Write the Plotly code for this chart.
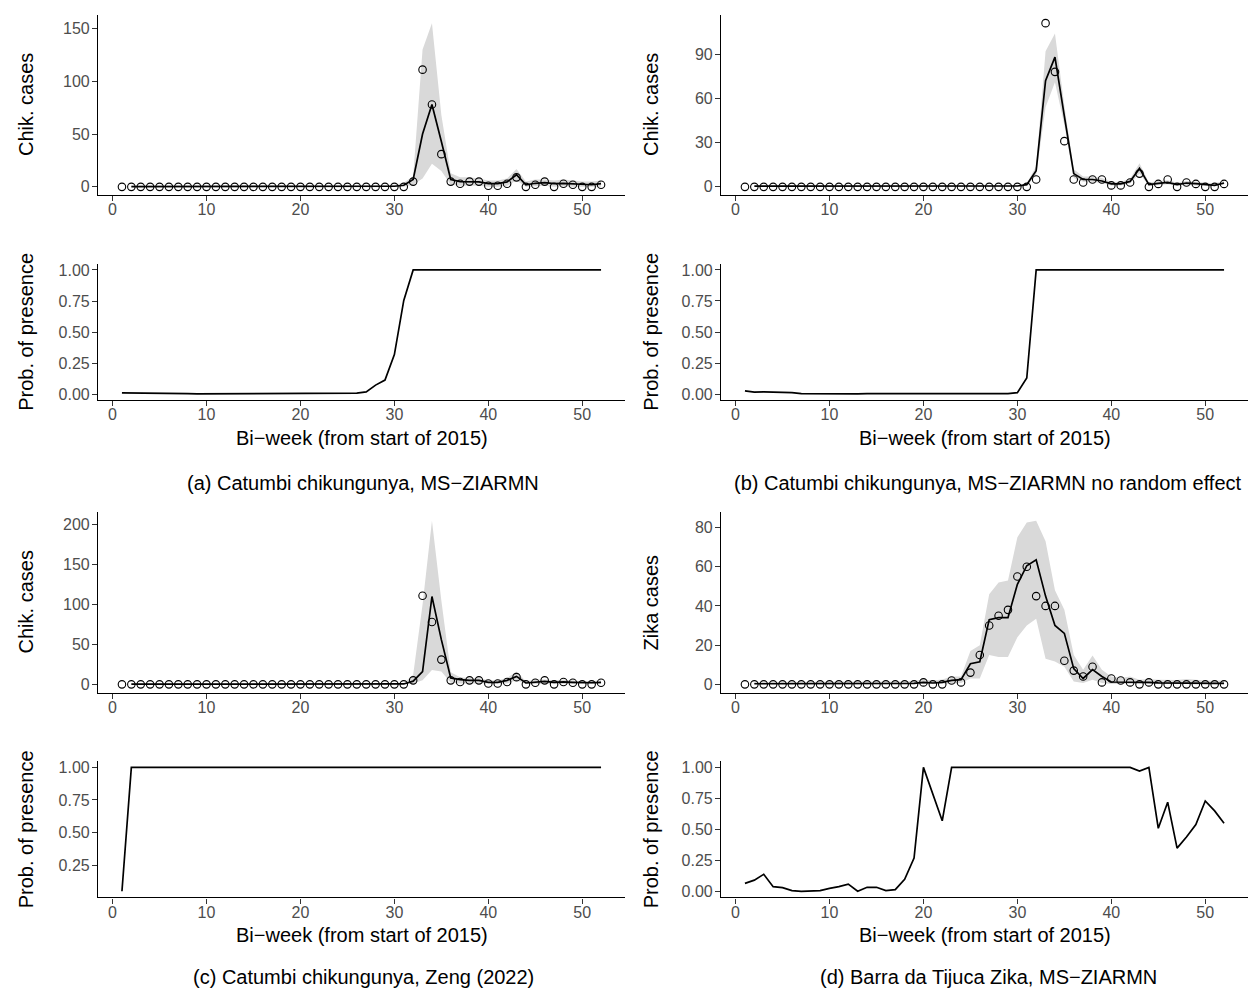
import plotly.graph_objects as go

# ---------------- data ----------------
weeks = list(range(1, 53))
fit_weeks = list(range(2, 53))

# observed chikungunya cases (Catumbi), panels a-c
obs_chik = [0, 0, 0, 0, 0, 0, 0, 0, 0, 0, 0, 0, 0, 0, 0, 0, 0, 0, 0, 0,
            0, 0, 0, 0, 0, 0, 0, 0, 0, 0, 0, 5, 111, 78, 31, 5, 3, 5, 5, 1,
            1, 3, 9, 0, 2, 5, 0, 3, 2, 0, 0, 2]

# observed zika cases (Barra da Tijuca), panel d
obs_zika = [0, 0, 0, 0, 0, 0, 0, 0, 0, 0, 0, 0, 0, 0, 0, 0, 0, 0, 0, 1,
            0, 0, 2, 1, 6, 15, 30, 35, 38, 55, 60, 45, 40, 40, 12, 7, 4, 9, 1, 3,
            2, 1, 0, 1, 0, 0, 0, 0, 0, 0, 0, 0]

# (a) MS-ZIARMN fitted mean and interval (weeks 2..52)
fit_a = [0.3, 0.3, 0.3, 0.3, 0.3, 0.3, 0.3, 0.3, 0.3, 0.3, 0.3, 0.3, 0.3, 0.3, 0.3,
         0.3, 0.3, 0.3, 0.3, 0.3, 0.3, 0.3, 0.3, 0.3, 0.3, 0.3, 0.4, 0.5, 0.6,
         1.5, 7, 50, 78, 43, 7, 5, 5, 4.7, 3, 3, 4.7, 11.5, 2, 3.4, 4, 3, 3.4, 3, 2, 2, 3]
up_a = [1.2, 1.2, 1.2, 1.2, 1.2, 1.2, 1.2, 1.2, 1.2, 1.2, 1.2, 1.2, 1.2, 1.2, 1.2,
        1.2, 1.2, 1.2, 1.2, 1.2, 1.2, 1.2, 1.2, 1.2, 1.2, 1.2, 1.4, 1.6, 2,
        4, 10, 130, 155, 68, 13, 9, 9, 8, 6, 6, 8, 17, 5, 7, 7, 6, 7, 6, 5, 5, 6]
lo_a = [0, 0, 0, 0, 0, 0, 0, 0, 0, 0, 0, 0, 0, 0, 0,
        0, 0, 0, 0, 0, 0, 0, 0, 0, 0, 0, 0, 0, 0,
        0, 2, 8, 22, 15, 2, 1, 1, 1, 0, 0, 1, 6, 0, 0.5, 1, 0, 0.5, 0, 0, 0, 0]
prob_a = [0.012, 0.012, 0.012, 0.011, 0.011, 0.010, 0.007, 0.006, 0.005, 0.005,
          0.005, 0.005, 0.005, 0.005, 0.005, 0.005, 0.005, 0.005, 0.005, 0.005,
          0.005, 0.005, 0.005, 0.005, 0.006, 0.010, 0.020, 0.075, 0.115, 0.32,
          0.755, 1.0, 1.0, 1.0, 1.0, 1.0, 1.0, 1.0, 1.0, 1.0,
          1.0, 1.0, 1.0, 1.0, 1.0, 1.0, 1.0, 1.0, 1.0, 1.0, 1.0, 1.0]

# (b) MS-ZIARMN no random effect
fit_b = [0.5, 0.5, 0.5, 0.5, 0.5, 0.5, 0.5, 0.5, 0.5, 0.5, 0.5, 0.5, 0.5, 0.5, 0.5,
         0.5, 0.5, 0.5, 0.5, 0.5, 0.5, 0.5, 0.5, 0.5, 0.5, 0.5, 0.5, 0.5, 0.6,
         1.5, 11, 72, 88, 48, 9, 5, 5, 4, 2, 2, 3.7, 12.5, 1.5, 2.4, 3, 1.5, 2.6, 2.2, 1.5, 1, 2.6]
up_b = [1, 1, 1, 1, 1, 1, 1, 1, 1, 1, 1, 1, 1, 1, 1,
        1, 1, 1, 1, 1, 1, 1, 1, 1, 1, 1, 1, 1, 1.1,
        2.5, 14, 92, 104, 55, 12, 7, 7, 6, 3.5, 3.5, 5.5, 16, 3, 4, 4.5, 3, 4, 3.5, 3, 2.5, 4]
lo_b = [0.1, 0.1, 0.1, 0.1, 0.1, 0.1, 0.1, 0.1, 0.1, 0.1, 0.1, 0.1, 0.1, 0.1, 0.1,
        0.1, 0.1, 0.1, 0.1, 0.1, 0.1, 0.1, 0.1, 0.1, 0.1, 0.1, 0.1, 0.1, 0.2,
        0.8, 8, 54, 71, 42, 6, 3.5, 3.5, 2.5, 1, 1, 2.2, 9, 0.6, 1.2, 1.8, 0.6, 1.4, 1, 0.6, 0.4, 1.4]
prob_b = [0.027, 0.016, 0.018, 0.018, 0.016, 0.012, 0.004, 0.003, 0.003, 0.003,
          0.003, 0.003, 0.003, 0.004, 0.003, 0.003, 0.003, 0.003, 0.003, 0.004,
          0.005, 0.005, 0.003, 0.003, 0.003, 0.003, 0.003, 0.004, 0.005, 0.012,
          0.13, 1.0, 1.0, 1.0, 1.0, 1.0, 1.0, 1.0, 1.0, 1.0,
          1.0, 1.0, 1.0, 1.0, 1.0, 1.0, 1.0, 1.0, 1.0, 1.0, 1.0, 1.0]

# (c) Zeng (2022)
fit_c = [0.3, 0.3, 0.3, 0.3, 0.3, 0.3, 0.3, 0.3, 0.3, 0.3, 0.3, 0.3, 0.3, 0.3, 0.3,
         0.3, 0.3, 0.3, 0.3, 0.3, 0.3, 0.3, 0.3, 0.3, 0.3, 0.3, 0.3, 0.3, 0.3, 0.5,
         4, 16, 110, 56, 8, 6, 5, 5, 2.5, 2.5, 5, 10, 1.7, 3, 3.7, 2.5, 3, 2.5, 2, 2, 2.5]
up_c = [1, 1, 1, 1, 1, 1, 1, 1, 1, 1, 1, 1, 1, 1, 1,
        1, 1, 1, 1, 1, 1, 1, 1, 1, 1, 1, 1, 1, 1, 1.5,
        12, 100, 205, 105, 15, 9, 8, 8, 5, 5, 8, 16, 4, 6, 6, 5, 6, 5, 4, 4, 5]
lo_c = [0, 0, 0, 0, 0, 0, 0, 0, 0, 0, 0, 0, 0, 0, 0,
        0, 0, 0, 0, 0, 0, 0, 0, 0, 0, 0, 0, 0, 0, 0,
        1, 5, 18, 16, 2, 1, 1, 1, 1, 1, 1, 5, 0.5, 0.5, 0.5, 0.5, 0.5, 0.5, 0.5, 0.5, 0.5]
prob_c = [0.05, 1.0, 1.0, 1.0, 1.0, 1.0, 1.0, 1.0, 1.0, 1.0,
          0.999, 0.999, 1.0, 1.0, 1.0, 1.0, 1.0, 1.0, 1.0, 1.0,
          1.0, 1.0, 1.0, 1.0, 1.0, 1.0, 1.0, 1.0, 1.0, 1.0,
          1.0, 1.0, 1.0, 1.0, 1.0, 1.0, 1.0, 1.0, 1.0, 1.0,
          1.0, 1.0, 1.0, 1.0, 1.0, 1.0, 1.0, 1.0, 1.0, 0.999, 0.999, 1.0]

# (d) Barra da Tijuca Zika, MS-ZIARMN
fit_d = [0.3, 0.3, 0.3, 0.3, 0.3, 0.3, 0.3, 0.3, 0.3, 0.3, 0.3, 0.3, 0.3, 0.3, 0.3,
         0.3, 0.4, 0.5,
         1, 0.7, 1, 2, 2.4, 10.5, 11.5, 33, 34, 34, 51, 60.5, 63.5, 45, 30, 26, 8, 3,
         7.5, 4, 1.2, 1.2, 1.1, 0.9, 1, 0.8, 0.7, 0.6, 0.7, 0.6, 0.5, 0.5, 0.5]
up_d = [1.2, 1.2, 1.2, 1.2, 1.2, 1.2, 1.2, 1.2, 1.2, 1.2, 1.2, 1.2, 1.2, 1.2, 1.2,
        1.2, 1.4, 1.8,
        2.5, 2, 2.5, 4, 4, 17, 20, 46, 52, 53, 75, 82.5, 83.5, 73, 48, 38, 15, 7.4,
        14.7, 7.4, 4, 3.2, 4, 2.4, 2.7, 2.4, 2.2, 2.2, 2.7, 2.2, 2, 2, 2]
lo_d = [0, 0, 0, 0, 0, 0, 0, 0, 0, 0, 0, 0, 0, 0, 0,
        0, 0, 0,
        0, 0, 0, 0.3, 0.7, 3, 3, 15, 14, 14, 24, 30, 33.5, 13, 11.6, 9, 1.5, 0.7,
        2.4, 0.7, 0.2, 0.2, 0.2, 0.2, 0.2, 0.2, 0.2, 0.2, 0.2, 0.2, 0.2, 0.2, 0.2]
prob_d = [0.067, 0.093, 0.14, 0.04, 0.032, 0.008, 0.003, 0.003, 0.008, 0.027,
          0.04, 0.061, 0.003, 0.035, 0.035, 0.008, 0.016, 0.1, 0.27, 1.0,
          0.785, 0.57, 1.0, 1.0, 1.0, 1.0, 1.0, 1.0, 1.0, 1.0,
          1.0, 1.0, 1.0, 1.0, 1.0, 1.0, 1.0, 1.0, 1.0, 1.0,
          1.0, 1.0, 0.97, 1.0, 0.51, 0.72, 0.35, 0.44, 0.54, 0.73, 0.65, 0.55]

x_ticks = [0, 10, 20, 30, 40, 50]
prob_ticks = [0.0, 0.25, 0.5, 0.75, 1.0]
prob_labels = ["0.00", "0.25", "0.50", "0.75", "1.00"]

panels = [
    dict(obs=obs_chik, fit=fit_a, up=up_a, lo=lo_a, prob=prob_a,
         yticks=[0, 50, 100, 150], ytitle="Chik. cases",
         caption="(a) Catumbi chikungunya, MS\u2212ZIARMN", col=0, row=0),
    dict(obs=obs_chik, fit=fit_b, up=up_b, lo=lo_b, prob=prob_b,
         yticks=[0, 30, 60, 90], ytitle="Chik. cases",
         caption="(b) Catumbi chikungunya, MS\u2212ZIARMN no random effect", col=1, row=0),
    dict(obs=obs_chik, fit=fit_c, up=up_c, lo=lo_c, prob=prob_c,
         yticks=[0, 50, 100, 150, 200], ytitle="Chik. cases",
         caption="(c) Catumbi chikungunya, Zeng (2022)", col=0, row=1),
    dict(obs=obs_zika, fit=fit_d, up=up_d, lo=lo_d, prob=prob_d,
         yticks=[0, 20, 40, 60, 80], ytitle="Zika cases",
         caption="(d) Barra da Tijuca Zika, MS\u2212ZIARMN", col=1, row=1),
]

# ---------------- layout geometry ----------------
W, H = 1256, 989
col_px = [(90, 617), (713, 1240)]
ytitle_px = [18, 643]
caption_cx = [355, 980]
row_px = [dict(top=(5, 186), bot=(255, 392), xtitle=430, caption=475),
          dict(top=(505, 686), bot=(755, 892), xtitle=930, caption=972)]


def py(p):
    return 1 - p / H


def pad_range(vals, frac=0.05):
    v = [a for a in vals if a is not None]
    lo, hi = min(v), max(v)
    d = (hi - lo) * frac
    return [lo - d, hi + d]


xr = pad_range(weeks)

FONT = "Liberation Sans, Arial, sans-serif"
tickfont = dict(family=FONT, size=16, color="#4D4D4D")
axis_common = dict(showline=True, linecolor="black", linewidth=1.2,
                   ticks="outside", ticklen=5, tickwidth=1.1, tickcolor="#333333",
                   showgrid=False, zeroline=False, tickfont=tickfont)
title_font = dict(family=FONT, size=20, color="black")

fig = go.Figure()
layout = {}
annotations = []
ribbon_color = "#D9D9D9"

for i, p in enumerate(panels):
    top_id = 2 * i + 1
    bot_id = 2 * i + 2
    cx = col_px[p["col"]]
    rg = row_px[p["row"]]
    xdom = [cx[0] / W, cx[1] / W]

    for aid in (top_id, bot_id):
        xs = "" if aid == 1 else str(aid)
        layout["xaxis" + xs] = dict(axis_common, domain=xdom, anchor="y" + xs,
                                    range=xr, tickvals=x_ticks, ticklabelstandoff=-5)
    ys_t = "" if top_id == 1 else str(top_id)
    layout["yaxis" + ys_t] = dict(axis_common, domain=[py(rg["top"][1]), py(rg["top"][0])],
                                  anchor="x" + ys_t,
                                  range=pad_range(p["obs"] + p["up"] + p["lo"]),
                                  tickvals=p["yticks"], ticklabelstandoff=-1)
    ys_b = str(bot_id)
    layout["yaxis" + ys_b] = dict(axis_common, domain=[py(rg["bot"][1]), py(rg["bot"][0])],
                                  anchor="x" + ys_b,
                                  range=pad_range(p["prob"]),
                                  tickvals=prob_ticks, ticktext=prob_labels,
                                  ticklabelstandoff=-1)

    xa_t = "x" + ys_t
    ya_t = "y" + ys_t
    # ribbon
    fig.add_trace(go.Scatter(x=fit_weeks, y=p["up"], mode="lines",
                             line=dict(width=0, color=ribbon_color),
                             xaxis=xa_t, yaxis=ya_t, showlegend=False, hoverinfo="skip"))
    fig.add_trace(go.Scatter(x=fit_weeks, y=p["lo"], mode="lines",
                             line=dict(width=0, color=ribbon_color),
                             fill="tonexty", fillcolor=ribbon_color,
                             xaxis=xa_t, yaxis=ya_t, showlegend=False, hoverinfo="skip"))
    # fitted line
    fig.add_trace(go.Scatter(x=fit_weeks, y=p["fit"], mode="lines",
                             line=dict(width=1.7, color="black"),
                             xaxis=xa_t, yaxis=ya_t, showlegend=False))
    # observations
    fig.add_trace(go.Scatter(x=weeks, y=p["obs"], mode="markers",
                             marker=dict(symbol="circle-open", size=7.5, color="black",
                                         line=dict(width=1.1, color="black")),
                             xaxis=xa_t, yaxis=ya_t, showlegend=False))
    # probability of presence
    fig.add_trace(go.Scatter(x=weeks, y=p["prob"], mode="lines",
                             line=dict(width=1.7, color="black"),
                             xaxis="x" + ys_b, yaxis="y" + ys_b,
                             showlegend=False))

    # y titles
    tx = ytitle_px[p["col"]] / W
    for (t0, t1), txt in ((rg["top"], p["ytitle"]), (rg["bot"], "Prob. of presence")):
        annotations.append(dict(text=txt, x=tx, y=py((t0 + t1) / 2), xref="paper", yref="paper",
                                xanchor="center", yanchor="middle", textangle=-90,
                                showarrow=False, font=title_font))
    # x title
    annotations.append(dict(text="Bi\u2212week (from start of 2015)", x=(xdom[0] + xdom[1]) / 2,
                            y=py(rg["xtitle"]), xref="paper", yref="paper",
                            xanchor="center", yanchor="middle", showarrow=False,
                            font=title_font))
    # caption
    annotations.append(dict(text=p["caption"], x=caption_cx[p["col"]] / W, y=py(rg["caption"]),
                            xref="paper", yref="paper", xanchor="center", yanchor="middle",
                            showarrow=False, font=dict(family=FONT, size=20, color="black")))

fig.update_layout(width=W, height=H, margin=dict(l=0, r=0, t=0, b=0),
                  plot_bgcolor="white", paper_bgcolor="white",
                  annotations=annotations, **layout)

fig.write_html("out.html")
